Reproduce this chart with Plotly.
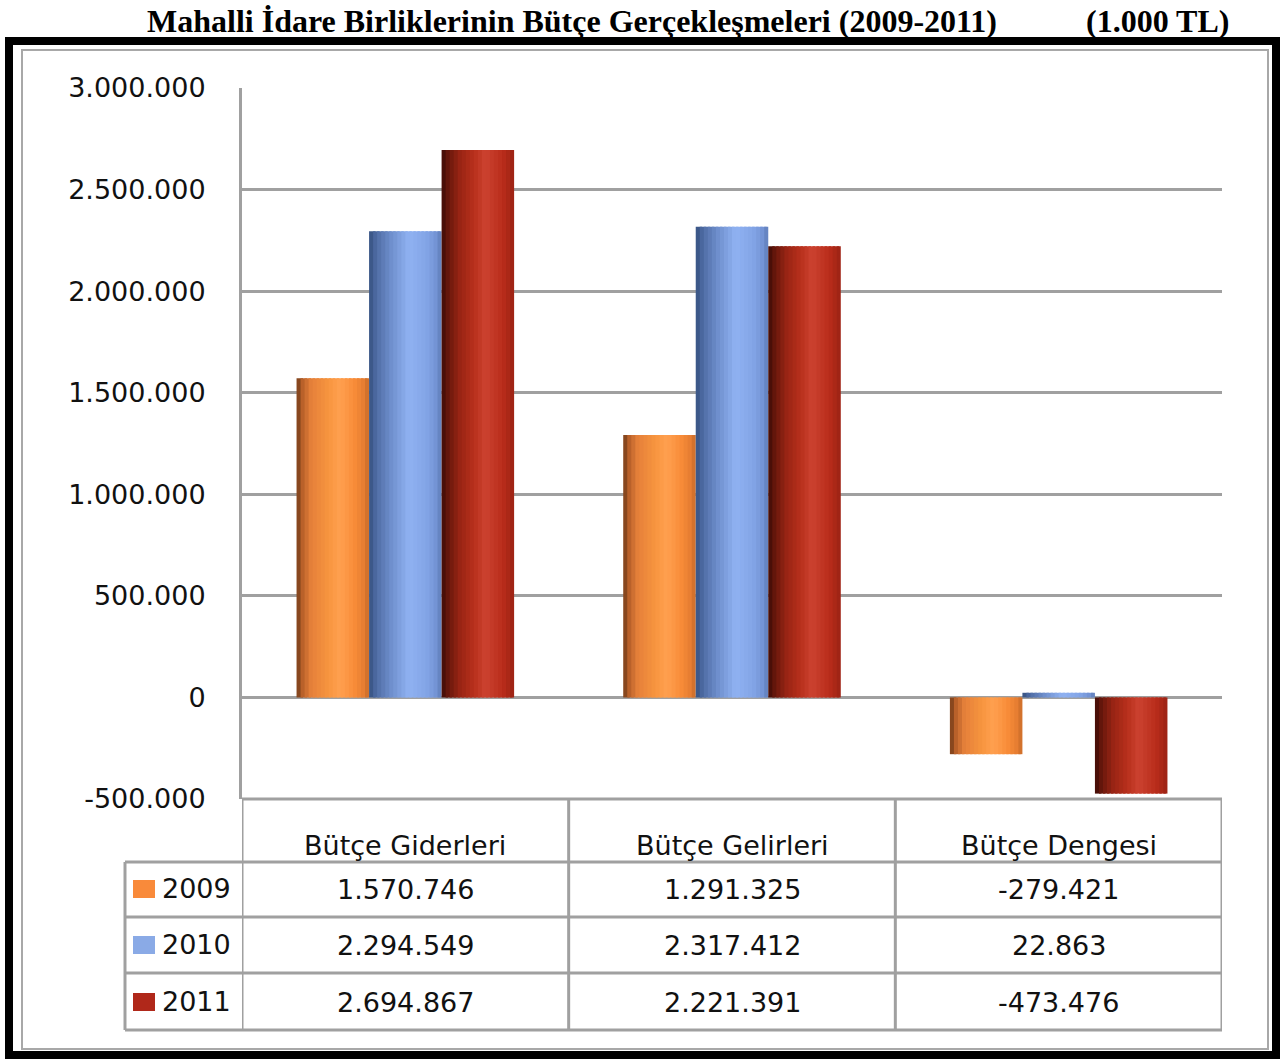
import plotly.graph_objects as go

# ---------------- data ----------------
categories = ["Bütçe Giderleri", "Bütçe Gelirleri", "Bütçe Dengesi"]
years = ["2009", "2010", "2011"]
values_2009 = [1570746, 1291325, -279421]
values_2010 = [2294549, 2317412, 22863]
values_2011 = [2694867, 2221391, -473476]
series_values = [values_2009, values_2010, values_2011]

tick_vals = [-500000, 0, 500000, 1000000, 1500000, 2000000, 2500000, 3000000]
tick_text = ["-500.000", "0", "500.000", "1.000.000", "1.500.000",
             "2.000.000", "2.500.000", "3.000.000"]

title_main = "Mahalli İdare Birliklerinin Bütçe Gerçekleşmeleri (2009-2011)"
title_unit = "(1.000 TL)"

# ---------------- style ----------------
W, H = 1282, 1061
legend_colors = ["#F98A3A", "#8AAAE6", "#B0281A"]
profiles = [
    [(0, "#6E3A18"), (0.08, "#B8602A"), (0.2, "#E5803A"), (0.45, "#F8963F"),
     (0.6, "#FFA050"), (0.8, "#F88C38"), (0.95, "#E27A30"), (1, "#C06828")],
    [(0, "#34507E"), (0.1, "#4F6CA4"), (0.3, "#6E8ECC"), (0.55, "#90B2F2"),
     (0.8, "#82A4E6"), (0.95, "#7090D0"), (1, "#5A78B0")],
    [(0, "#3E0C06"), (0.1, "#6A180C"), (0.25, "#982414"), (0.45, "#B8301C"),
     (0.6, "#CC4230"), (0.85, "#B82C1A"), (1, "#9A2214")],
]
GRID = "#A0A0A0"
FONT = "DejaVu Sans"
FS = 27
TXT = "#111111"


def px_x(p):
    return p / W


def px_y(p):
    return 1 - p / H


def hex2rgb(h):
    h = h.lstrip("#")
    return tuple(int(h[i:i + 2], 16) for i in (0, 2, 4))


def interp(profile, t):
    for (t0, c0), (t1, c1) in zip(profile, profile[1:]):
        if t0 <= t <= t1:
            f = (t - t0) / (t1 - t0) if t1 > t0 else 0
            a, b = hex2rgb(c0), hex2rgb(c1)
            r = [round(a[k] + (b[k] - a[k]) * f) for k in range(3)]
            return "rgb(%d,%d,%d)" % tuple(r)
    return profile[-1][1]


def fmt(v):
    return f"{v:,}".replace(",", ".")


X_L, X_R = 242, 1222
Y_T, Y_B = 88, 799

fig = go.Figure()

group_w = 0.666
bar_w = group_w / 3
N = 18
for i, vals in enumerate(series_values):
    base = -group_w / 2 + i * bar_w
    step = bar_w / N
    for j in range(N):
        t = (j + 0.5) / N
        width = step * 1.6 if j < N - 1 else step
        fig.add_trace(go.Bar(
            x=categories, y=vals,
            offset=base + j * step, width=width,
            marker=dict(color=interp(profiles[i], t), line=dict(width=0)),
            showlegend=False, hoverinfo="skip",
        ))

fig.update_layout(
    width=W, height=H, autosize=False,
    margin=dict(l=0, r=0, t=0, b=0, pad=0),
    paper_bgcolor="white", plot_bgcolor="white",
    barmode="overlay",
    showlegend=False,
    xaxis=dict(domain=[px_x(X_L), px_x(X_R)], range=[-0.5, 2.5],
               showticklabels=False, showgrid=False, zeroline=False,
               automargin=False, fixedrange=True),
    yaxis=dict(domain=[px_y(Y_B), px_y(Y_T)], range=[-500000, 3000000],
               tickvals=tick_vals, ticktext=tick_text,
               tickfont=dict(family=FONT, size=FS, color=TXT),
               showgrid=True, gridcolor=GRID, gridwidth=3,
               zeroline=False, showline=True, linecolor=GRID, linewidth=3,
               ticks="", ticklabelstandoff=28, automargin=False),
)

shapes = []
# outer frame
shapes.append(dict(type="rect", xref="paper", yref="paper",
                   x0=px_x(9), x1=px_x(1276), y0=px_y(1055), y1=px_y(41),
                   line=dict(color="black", width=8), layer="above"))
shapes.append(dict(type="rect", xref="paper", yref="paper",
                   x0=px_x(22), x1=px_x(1268), y0=px_y(1049), y1=px_y(50),
                   line=dict(color="#A8A8A8", width=2), layer="above"))

# table
row_lines = [862, 917, 973, 1030]
T_LEFT = 125
shapes.append(dict(type="line", xref="paper", yref="paper",
                   x0=px_x(X_L), x1=px_x(X_R), y0=px_y(Y_B), y1=px_y(Y_B),
                   line=dict(color=GRID, width=3)))
for ry in row_lines:
    shapes.append(dict(type="line", xref="paper", yref="paper",
                       x0=px_x(T_LEFT), x1=px_x(X_R), y0=px_y(ry), y1=px_y(ry),
                       line=dict(color=GRID, width=3)))
for cx in [-0.5, 0.5, 1.5, 2.5]:
    shapes.append(dict(type="line", xref="x", yref="paper",
                       x0=cx, x1=cx, y0=px_y(Y_B), y1=px_y(row_lines[-1]),
                       line=dict(color=GRID, width=3)))
shapes.append(dict(type="line", xref="paper", yref="paper",
                   x0=px_x(T_LEFT), x1=px_x(T_LEFT),
                   y0=px_y(row_lines[0]), y1=px_y(row_lines[-1]),
                   line=dict(color=GRID, width=3)))

annotations = []
# header
for c in categories:
    annotations.append(dict(x=c, xref="x", y=px_y(845), yref="paper",
                            text=c, showarrow=False,
                            font=dict(family=FONT, size=FS, color=TXT),
                            xanchor="center", yanchor="middle"))
# rows
row_centers = [889, 945, 1002]
for i, vals in enumerate(series_values):
    yc = row_centers[i]
    shapes.append(dict(type="rect", xref="paper", yref="paper",
                       x0=px_x(133), x1=px_x(155),
                       y0=px_y(yc + 9), y1=px_y(yc - 9),
                       fillcolor=legend_colors[i], line=dict(width=0)))
    annotations.append(dict(x=px_x(160), xref="paper", y=px_y(yc - 1), yref="paper",
                            text=years[i], showarrow=False,
                            font=dict(family=FONT, size=FS, color=TXT),
                            xanchor="left", yanchor="middle"))
    for c, v in zip(categories, vals):
        annotations.append(dict(x=c, xref="x", y=px_y(yc), yref="paper",
                                text=fmt(v), showarrow=False,
                                font=dict(family=FONT, size=FS, color=TXT),
                                xanchor="center", yanchor="middle"))

# title
annotations.append(dict(x=px_x(572), xref="paper", y=px_y(21), yref="paper",
                        text="<b>%s</b>" % title_main, showarrow=False,
                        font=dict(family="Liberation Serif", size=32, color="black"),
                        xanchor="center", yanchor="middle"))
annotations.append(dict(x=px_x(1157), xref="paper", y=px_y(21), yref="paper",
                        text="<b>%s</b>" % title_unit, showarrow=False,
                        font=dict(family="Liberation Serif", size=32, color="black"),
                        xanchor="center", yanchor="middle"))

fig.update_layout(shapes=shapes, annotations=annotations)
fig.write_html("out.html",
               config={"displayModeBar": False, "staticPlot": True},
               post_script="document.body.style.margin='0px';"
                           "document.body.style.overflow='hidden';")
